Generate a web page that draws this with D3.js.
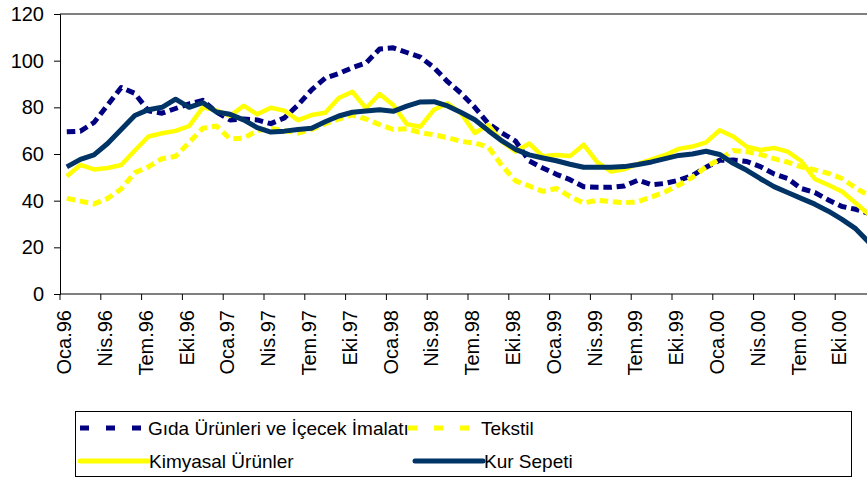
<!DOCTYPE html>
<html>
<head>
<meta charset="utf-8">
<script src="https://cdn.jsdelivr.net/npm/d3@7"></script>
<style>
  body { margin: 0; background: #fff; }
  text { font-family: "Liberation Sans", Arial, sans-serif; fill: #000; }
</style>
</head>
<body>
<div id="chart"></div>
<script>
// month names (Turkish, short) and years on the axis
const monthNames = ['Oca', 'Şub', 'Mar', 'Nis', 'May', 'Haz', 'Tem', 'Ağu', 'Eyl', 'Eki', 'Kas', 'Ara'];
const years = ['96', '97', '98', '99', '00'];
const months = [];
years.forEach(y => monthNames.forEach(m => months.push(m + '.' + y)));

const yTicks = [0, 20, 40, 60, 80, 100, 120];

// series values, one per month (Oca.96 - Ara.00)
const gida = [69.5, 69.8, 73.5, 81, 88.5, 86, 78.5, 77.5, 79.5, 81.5, 83, 78,
  74.6, 75, 74.6, 73, 75.5, 81, 87.5, 92.5, 94.5, 97, 99, 105,
  105.5, 103.5, 101.5, 97, 91, 86, 80, 73, 69, 65.5, 57, 54,
  51.3, 49, 46, 45.7, 45.7, 46.3, 48.8, 46.8, 47.4, 48.8, 50.8, 54.3,
  57.3, 57.4, 56.8, 54.6, 51.5, 49.5, 45.2, 43.5, 40.3, 37.5, 36.3, 34.5];
const tekstil = [41, 39.8, 38.6, 41, 45, 52, 54.5, 58, 59, 65, 71, 72,
  66.5, 66.8, 70, 71, 70, 69, 70.5, 73, 75, 76.7, 75, 72.6,
  70.5, 70.8, 69.2, 68.2, 67, 65.4, 64.7, 63, 55, 48.5, 46.3, 44,
  45.2, 41.8, 39, 40.2, 39.6, 39.1, 39.6, 41.6, 43.8, 46.7, 50, 54.5,
  57.8, 61.5, 61, 59.8, 58, 56.5, 54.5, 53.2, 51.7, 49.5, 45.5, 42];
const kimya = [50.5, 55.3, 53.4, 54, 55.3, 61.5, 67.5, 68.9, 69.9, 72, 80, 78.7,
  76.3, 80.7, 77, 79.8, 78.6, 74.5, 76.7, 77.7, 84, 86.7, 79.6, 85.7,
  81, 72.8, 71.7, 79, 81.7, 77.4, 69, 72.4, 65.3, 61, 64.5, 59,
  59.6, 59.1, 64, 56.5, 52.5, 53.5, 55.8, 57.7, 59.6, 62.2, 63.2, 65,
  70.2, 67.5, 63.1, 61.7, 62.6, 61, 57, 49.3, 46.7, 43.9, 39, 34];
const kur = [54.5, 57.7, 59.6, 64.5, 70.5, 76.5, 79, 80, 83.5, 80, 82, 78,
  77, 74.6, 71.3, 69.4, 69.8, 70.5, 71, 73.8, 76.3, 77.9, 78.4, 79,
  78.3, 80.5, 82.3, 82.4, 80.6, 77.8, 74.7, 70, 65.6, 62, 59.6, 58.3,
  57.1, 55.6, 54.3, 54.3, 54.3, 54.6, 55.5, 56.6, 58, 59.4, 60, 61.2,
  59.8, 56, 53, 49.4, 46, 43.5, 41, 38.5, 35.5, 32, 28, 22];

const series = [
  {name: 'Gıda Ürünleri ve İçecek İmalatı', values: gida, color: '#000080', dash: '8.5,4.8', width: 5},
  {name: 'Tekstil', values: tekstil, color: '#FFFF00', dash: '8.5,4.8', width: 5},
  {name: 'Kimyasal Ürünler', values: kimya, color: '#FFFF00', dash: null, width: 4.5},
  {name: 'Kur Sepeti', values: kur, color: '#003366', dash: null, width: 5}
];

const width = 867, height = 479;
const svg = d3.select('#chart').append('svg')
  .attr('width', width)
  .attr('height', height);

const x = d3.scaleBand().domain(months).range([60, 876]);
const y = d3.scaleLinear().domain([0, 120]).range([294, 14]);
const cx = m => x(m) + x.bandwidth() / 2;

// plot frame top
svg.append('line')
  .attr('x1', 60).attr('x2', 876)
  .attr('y1', y(120)).attr('y2', y(120))
  .attr('stroke', '#000').attr('stroke-width', 1);

// y axis
const yAxis = svg.append('g')
  .attr('transform', 'translate(60,0)')
  .call(d3.axisLeft(y).tickValues(yTicks).tickSize(6).tickPadding(10));
yAxis.selectAll('text').style('font-size', '20px');
yAxis.selectAll('line, path').attr('stroke', '#000');

// x axis, ticks every 3rd month at category boundaries
const xAxis = svg.append('g').attr('transform', 'translate(0,294)');
xAxis.append('line')
  .attr('x1', 60).attr('x2', 876)
  .attr('stroke', '#000');
xAxis.selectAll('.tk')
  .data(months.filter((d, i) => i % 3 === 0))
  .enter().append('line')
  .attr('x1', d => x(d)).attr('x2', d => x(d))
  .attr('y1', 0).attr('y2', 6)
  .attr('stroke', '#000');
xAxis.selectAll('.lb')
  .data(months.filter((d, i) => i % 3 === 0))
  .enter().append('text')
  .attr('transform', d => 'translate(' + cx(d) + ',16) rotate(-90)')
  .attr('dy', '0.22em')
  .attr('text-anchor', 'end')
  .style('font-size', '20px')
  .text(d => d);

// lines
const line = d3.line()
  .x((d, i) => cx(months[i]))
  .y(d => y(d));

svg.append('g').selectAll('path')
  .data(series)
  .enter().append('path')
  .attr('d', d => line(d.values))
  .attr('fill', 'none')
  .attr('stroke', d => d.color)
  .attr('stroke-width', d => d.width)
  .attr('stroke-dasharray', d => d.dash)
  .attr('stroke-linejoin', 'round');

// legend
const legend = svg.append('g');
legend.append('rect')
  .attr('x', 75.5).attr('y', 411.5)
  .attr('width', 776).attr('height', 65)
  .attr('fill', '#fff').attr('stroke', '#000');

const legendPos = [
  {x1: 80, x2: 144, tx: 148, ty: 428},
  {x1: 408, x2: 478, tx: 481, ty: 428},
  {x1: 80, x2: 148, tx: 149, ty: 461},
  {x1: 415, x2: 483, tx: 484, ty: 461}
];

const item = legend.selectAll('.item')
  .data(series)
  .enter().append('g');

item.append('line')
  .attr('x1', (d, i) => legendPos[i].x1)
  .attr('x2', (d, i) => legendPos[i].x2)
  .attr('y1', (d, i) => legendPos[i].ty)
  .attr('y2', (d, i) => legendPos[i].ty)
  .attr('stroke', d => d.color)
  .attr('stroke-width', 5)
  .attr('stroke-linecap', d => d.dash ? 'butt' : 'round')
  .attr('stroke-dasharray', d => d.dash ? '9,17' : null);

item.append('text')
  .attr('x', (d, i) => legendPos[i].tx)
  .attr('y', (d, i) => legendPos[i].ty)
  .attr('dy', '0.35em')
  .style('font-size', '19px')
  .text(d => d.name);
</script>
</body>
</html>
